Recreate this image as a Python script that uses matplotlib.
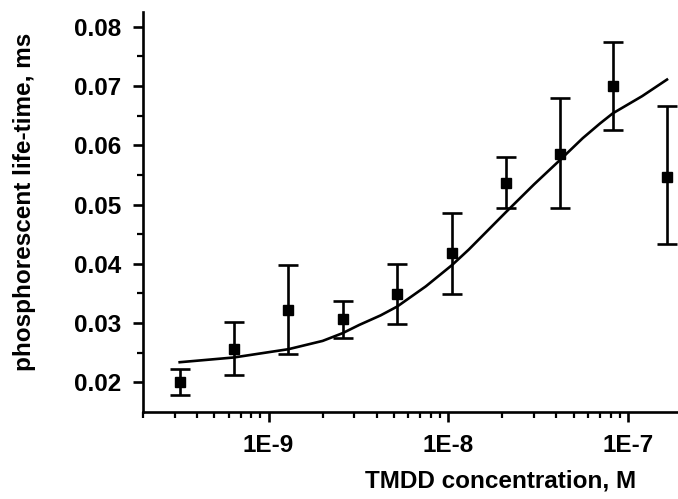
import matplotlib
matplotlib.use("Agg")
import matplotlib.pyplot as plt
from matplotlib.ticker import LogLocator, FixedLocator, NullFormatter, FixedFormatter

plt.rcParams["font.family"] = ["Liberation Sans", "DejaVu Sans"]
plt.rcParams["font.weight"] = "bold"

# measured points (concentration, M)
conc = [3.2e-10, 6.4e-10, 1.29e-9, 2.58e-9, 5.2e-9, 1.05e-8, 2.09e-8, 4.18e-8, 8.24e-8, 1.65e-7]
lifetime = [0.0200, 0.0256, 0.0322, 0.0307, 0.0349, 0.0418, 0.0537, 0.0586, 0.0700, 0.0547]
err_top = [0.0222, 0.0302, 0.0398, 0.0337, 0.0400, 0.0485, 0.0581, 0.0680, 0.0775, 0.0666]
err_bot = [0.0178, 0.0212, 0.0248, 0.0275, 0.0298, 0.0349, 0.0495, 0.0495, 0.0626, 0.0434]

# fitted curve
fit_x = [3.2e-10, 6.4e-10, 1.29e-9, 2.0e-9, 2.58e-9, 3.2e-9, 4.2e-9, 5.2e-9, 7.5e-9, 1.05e-8,
         1.3e-8, 2.09e-8, 3.0e-8, 4.18e-8, 5.6e-8, 7.0e-8, 8.24e-8, 1.2e-7, 1.65e-7]
fit_y = [0.0234, 0.0242, 0.0256, 0.0270, 0.0283, 0.0297, 0.0313, 0.0328, 0.0362, 0.0398,
         0.0424, 0.0487, 0.0534, 0.0575, 0.0612, 0.0637, 0.0654, 0.0683, 0.0711]

yticks = [0.02, 0.03, 0.04, 0.05, 0.06, 0.07, 0.08]
ytick_labels = ["0.02", "0.03", "0.04", "0.05", "0.06", "0.07", "0.08"]
xticks = [1e-9, 1e-8, 1e-7]
xtick_labels = ["1E-9", "1E-8", "1E-7"]

fig = plt.figure(figsize=(6.78, 4.99), dpi=100)
ax = fig.add_axes([143 / 678, 1 - 412 / 499, 1 - 143 / 678, 400 / 499])

lo = [v - b for v, b in zip(lifetime, err_bot)]
hi = [t - v for v, t in zip(lifetime, err_top)]
ax.errorbar(conc, lifetime, yerr=[lo, hi], fmt="none", ecolor="black",
            elinewidth=1.9, capsize=7, capthick=1.9)
ax.plot(fit_x, fit_y, color="black", linewidth=1.9, solid_joinstyle="round")
ax.plot(conc, lifetime, linestyle="none", marker="s", markersize=7.5,
        color="black")

ax.set_xscale("log")
ax.set_xlim(2e-10, 1.9e-7)
ax.set_ylim(0.015, 0.0825)

ax.xaxis.set_major_locator(FixedLocator(xticks))
ax.xaxis.set_major_formatter(FixedFormatter(xtick_labels))
ax.xaxis.set_minor_locator(LogLocator(base=10, subs=range(2, 10)))
ax.xaxis.set_minor_formatter(NullFormatter())
ax.yaxis.set_major_locator(FixedLocator(yticks))
ax.yaxis.set_major_formatter(FixedFormatter(ytick_labels))
ax.yaxis.set_minor_locator(FixedLocator([0.025, 0.035, 0.045, 0.055, 0.065, 0.075]))

for side in ["top", "right"]:
    ax.spines[side].set_visible(False)
for side in ["left", "bottom"]:
    ax.spines[side].set_linewidth(1.9)

ax.tick_params(which="major", direction="out", length=7, width=1.9,
               labelsize=17.5, pad=9)
ax.tick_params(which="minor", direction="out", length=4, width=1.6)

fig.text(501 / 678, 1 - 481 / 499, "TMDD concentration, M", fontsize=17.5,
         fontweight="bold", ha="center", va="center")
fig.text(25 / 678, 1 - 202 / 499, "phosphorescent life-time, ms", fontsize=17.5,
         fontweight="bold", ha="center", va="center", rotation=90)

fig.savefig("out.png", dpi=100)
